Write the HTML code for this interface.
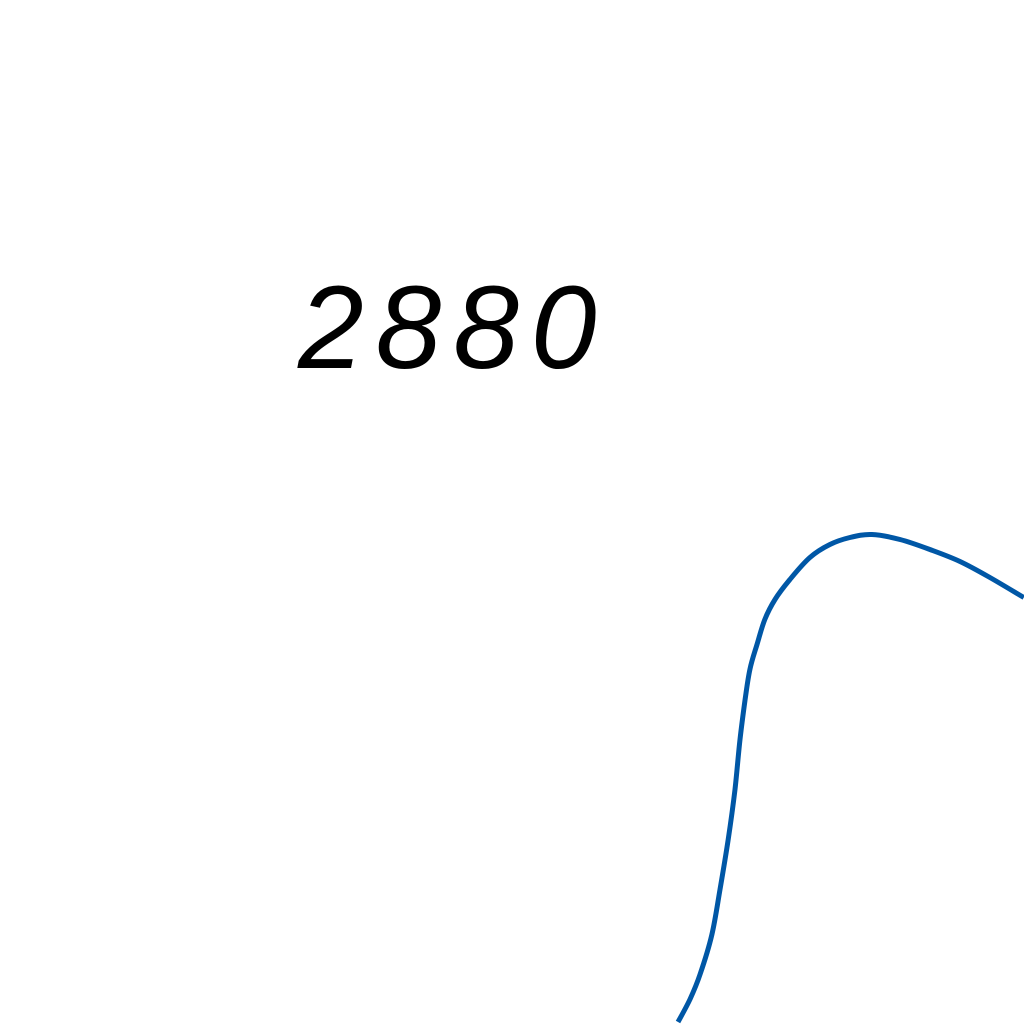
<!DOCTYPE html>
<html>
<head>
<meta charset="utf-8">
<style>
  html,body{margin:0;padding:0;background:#fff;}
  #wrap{position:relative;width:1024px;height:1024px;overflow:hidden;background:#fff;}
  #label{position:absolute;left:298px;top:269px;font-family:"Liberation Sans",sans-serif;font-style:italic;font-size:118px;letter-spacing:12px;color:#000;line-height:1;}
  svg{position:absolute;left:0;top:0;}
</style>
</head>
<body>
<div id="wrap">
  <div id="label">2880</div>
  <svg id="plot" width="1024" height="1024">
    <path id="line" fill="none" stroke="#0057a6" stroke-width="5" stroke-linejoin="round"></path>
  </svg>
</div>
<script>
var xVals = [0, 3.5, 6.5, 10, 12.4, 14.8, 16.8, 18.3, 19.8, 21.2, 23.3, 25.6, 28.6, 33, 38.9, 44.8, 50.7, 57.2, 65.5, 74.3, 83.2, 92, 102];
var yVals = [2.0, 6.5, 11.5, 19.5, 28.5, 38.5, 48.5, 58.5, 66.5, 72.5, 77.5, 82.5, 86.5, 90.5, 94.9, 97.5, 98.9, 99.5, 98.5, 96.5, 94.1, 90.9, 86.9];

function xScale(v){ return 678 + v * 3.39; }
function yScale(v){ return 1032 - v * 5.0; }

function smooth(){
  var pts = xVals.map(function(x,i){return [xScale(x), yScale(yVals[i])];});
  var s = 'M' + pts[0][0] + ',' + pts[0][1];
  for (var i = 0; i < pts.length - 1; i++) {
    var p0 = pts[i-1] || pts[i], p1 = pts[i], p2 = pts[i+1], p3 = pts[i+2] || p2;
    var c1x = p1[0] + (p2[0]-p0[0])/6, c1y = p1[1] + (p2[1]-p0[1])/6;
    var c2x = p2[0] - (p3[0]-p1[0])/6, c2y = p2[1] - (p3[1]-p1[1])/6;
    s += 'C' + c1x.toFixed(1)+','+c1y.toFixed(1)+' '+c2x.toFixed(1)+','+c2y.toFixed(1)+' '+p2[0].toFixed(1)+','+p2[1].toFixed(1);
  }
  return s;
}
document.getElementById('line').setAttribute('d', smooth());
</script>
</body>
</html>
